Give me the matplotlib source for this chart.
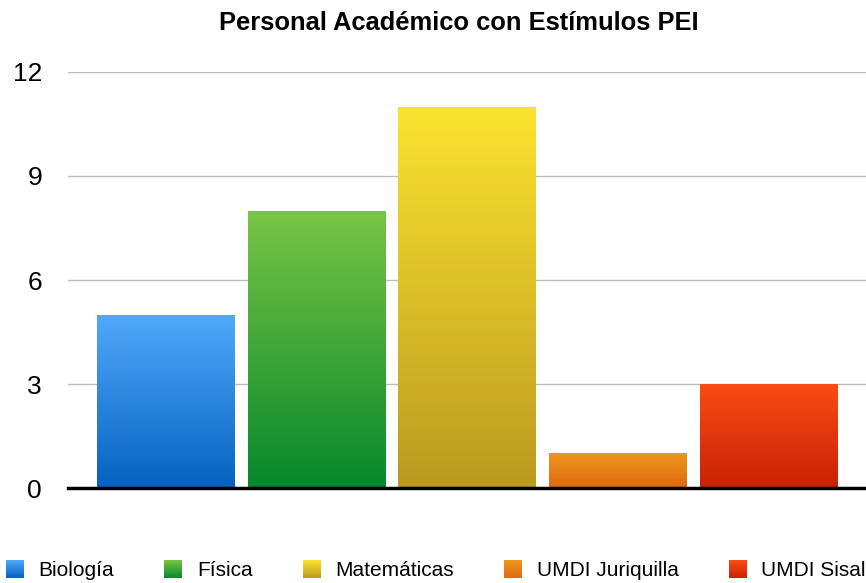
import numpy as np
import matplotlib
matplotlib.use("Agg")
import matplotlib.pyplot as plt
from matplotlib.colors import LinearSegmentedColormap, to_rgb
from matplotlib.patches import Rectangle
from matplotlib.legend_handler import HandlerBase

categories = ["Biología", "Física", "Matemáticas", "UMDI Juriquilla", "UMDI Sisal"]
values = [5, 8, 11, 1, 3]
yticks = [0, 3, 6, 9, 12]
title = "Personal Académico con Estímulos PEI"

top_colors = ["#52a9fb", "#79c545", "#fbe32f", "#ef961d", "#fb4b16"]
bottom_colors = ["#0462c0", "#06882c", "#bb9a20", "#df6a10", "#c82204"]

plt.rcParams['font.family'] = ['Liberation Sans', 'DejaVu Sans']

fig = plt.figure(figsize=(8.66, 5.83), dpi=100)
ax = fig.add_axes([68/866, 95/583, 1 - 68/866, (488-72)/583])

x = np.arange(len(categories))
bars = ax.bar(x, values, width=0.91, zorder=3)

grad = np.linspace(0, 1, 256).reshape(-1, 1)
for patch, tc, bc in zip(bars, top_colors, bottom_colors):
    cmap = LinearSegmentedColormap.from_list("g", [bc, tc])
    x0 = patch.get_x(); w = patch.get_width(); h = patch.get_height()
    patch.set_facecolor("none")
    patch.set_edgecolor("none")
    im = ax.imshow(grad, cmap=cmap, aspect='auto', origin='lower',
                   extent=[x0, x0 + w, 0, h], zorder=3, interpolation='bilinear')
    im.set_clip_path(patch)

ax.set_xlim(-0.645, 4.645)
ax.set_ylim(0, 12)
ax.set_yticks(yticks)
ax.set_yticklabels([str(t) for t in yticks], fontsize=19)
ax.set_xticks([])
ax.tick_params(axis='y', length=0, pad=18.7)
for lab in ax.get_yticklabels():
    lab.set_horizontalalignment('right')
ax.yaxis.grid(True, color="#bdbdbd", linewidth=1.0, zorder=0)
ax.set_axisbelow(True)
for s in ["top", "right", "left"]:
    ax.spines[s].set_visible(False)
ax.spines["bottom"].set_color("black")
ax.spines["bottom"].set_linewidth(2.5)
ax.spines["bottom"].set_zorder(5)

fig.text(458.5/866, 1 - 23/583, title, ha='center', va='center', fontsize=18.4, fontweight='bold')


class GradientHandler(HandlerBase):
    def __init__(self, top, bottom, n=20):
        super().__init__()
        self.top = np.array(to_rgb(top)); self.bottom = np.array(to_rgb(bottom)); self.n = n

    def create_artists(self, legend, orig_handle, xdescent, ydescent, width, height, fontsize, trans):
        arts = []
        hs = height / self.n
        for i in range(self.n):
            t = (i + 0.5) / self.n
            c = self.bottom * (1 - t) + self.top * t
            r = Rectangle((-xdescent, -ydescent + i * hs), width, hs * 1.05,
                          facecolor=c, edgecolor='none', transform=trans)
            arts.append(r)
        return arts


handles = [Rectangle((0, 0), 1, 1) for _ in categories]
handler_map = {h: GradientHandler(tc, bc) for h, tc, bc in zip(handles, top_colors, bottom_colors)}
fig.legend(handles, categories, handler_map=handler_map, loc='center left',
           bbox_to_anchor=(6/866, 1 - 570/583), ncol=5,
           frameon=False, fontsize=15, handlelength=0.87, handleheight=0.95,
           handletextpad=0.7, columnspacing=2.4, borderaxespad=0.0, borderpad=0.0)

fig.savefig("out.png", dpi=100)
